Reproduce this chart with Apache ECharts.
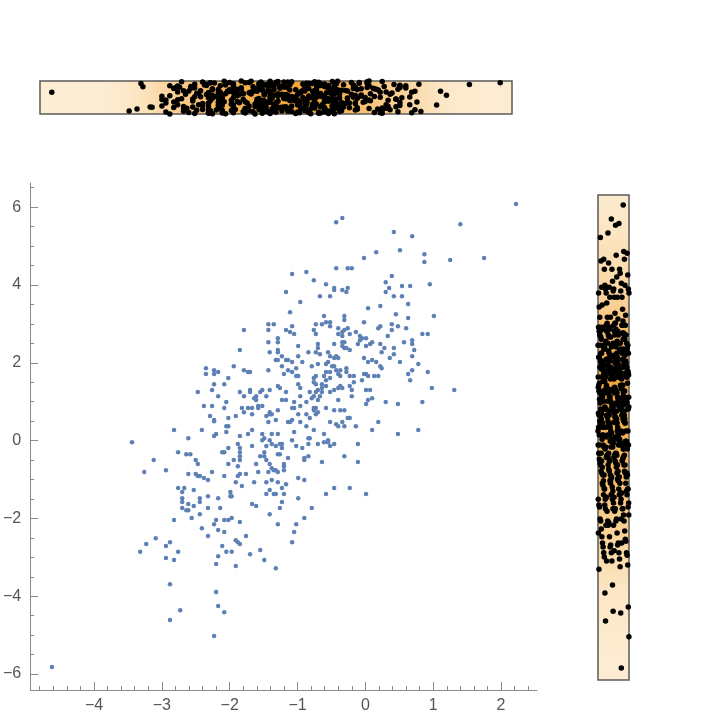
<!DOCTYPE html>
<html>
<head>
<meta charset="utf-8">
<script src="https://cdn.jsdelivr.net/npm/echarts@6/dist/echarts.min.js"></script>
<style>
  html, body { margin: 0; padding: 0; background: #fff; }
  #chart { width: 720px; height: 720px; }
</style>
</head>
<body>
<div id="chart"></div>
<script>
  // points, grouped by region of the plot
  const ptsLowerLeft = [
    [-2.82,0.27],[-2.41,0.27],[-2.23,0.50],[-2.05,0.37],[-2.02,0.37],[-3.44,-0.04],[-2.61,0.06],[-2.23,0.12],[-2.20,0.17],[-2.05,0.22],
    [-1.85,0.12],[-1.73,0.17],[-1.88,-0.09],[-1.85,-0.19],[-1.85,-0.30],[-1.85,-0.40],[-1.85,-0.50],[-2.02,-0.19],[-2.11,-0.30],[-2.08,-0.30],
    [-2.76,-0.30],[-2.64,-0.35],[-2.58,-0.35],[-3.12,-0.50],[-2.50,-0.50],[-2.47,-0.60],[-2.02,-0.60],[-1.94,-0.50],[-1.88,-0.66],[-3.26,-0.81],
    [-2.94,-0.76],[-2.61,-0.86],[-2.50,-0.86],[-2.47,-0.91],[-2.44,-0.91],[-2.38,-0.96],[-2.32,-1.01],[-2.26,-0.81],[-2.08,-0.91],[-1.88,-0.91],
    [-1.85,-0.86],[-1.76,-0.86],[-1.91,-1.07],[-1.82,-1.17],[-2.76,-1.22],[-2.67,-1.22],[-2.70,-1.32],[-2.53,-1.27],[-2.70,-1.48],[-2.70,-1.58],
    [-2.44,-1.48],[-2.44,-1.58],[-2.32,-1.43],[-2.17,-1.48],[-1.99,-1.32],[-1.99,-1.43],[-1.97,-1.43],[-2.61,-1.63],[-2.70,-1.73],[-2.64,-1.79],
    [-2.61,-1.79],[-2.53,-1.68],[-2.32,-1.73],[-2.14,-1.73],[-2.82,-2.04],[-2.56,-1.99],[-2.44,-1.89],[-2.20,-2.04],[-2.23,-2.15],[-2.08,-2.04],
    [-2.02,-2.04],[-1.97,-1.99],[-1.85,-2.09],[-2.41,-2.25],[-2.17,-2.30],[-2.08,-2.35],[-2.32,-2.45],[-1.76,-2.45],[-3.09,-2.51],[-3.23,-2.66],
    [-2.94,-2.71],[-2.88,-2.61],[-1.91,-2.56],[-1.88,-2.61],[-1.85,-2.66],[-2.11,-2.71],[-3.32,-2.86],[-2.76,-2.86],[-2.05,-2.86],[-1.97,-2.86],
    [-1.70,-2.92],[-2.94,-3.02],[-2.82,-3.07],[-2.17,-2.97],[-2.20,-3.17],[-1.91,-3.22],[-2.88,-3.69],[-2.20,-3.89],[-2.17,-4.25],[-2.08,-4.41],
    [-2.73,-4.36],[-2.88,-4.61],[-2.23,-5.02],[-4.62,-5.82]
  ];
  const ptsCentreLeft = [
    [-1.43,2.99],[-1.35,2.99],[-1.08,2.94],[-0.73,2.99],[-1.79,2.84],[-1.43,2.84],[-1.17,2.84],[-1.11,2.79],[-1.05,2.74],[-0.76,2.84],
    [-0.73,2.74],[-1.29,2.63],[-1.29,2.53],[-1.43,2.53],[-0.70,2.48],[-0.70,2.38],[-0.99,2.43],[-1.85,2.33],[-1.41,2.27],[-1.29,2.33],
    [-1.29,2.27],[-0.84,2.27],[-0.73,2.27],[-0.67,2.22],[-1.23,2.17],[-0.99,2.17],[-1.32,2.07],[-1.29,2.07],[-1.17,2.07],[-1.14,2.07],
    [-1.08,2.02],[-0.93,2.02],[-0.70,1.97],[-1.94,1.91],[-1.23,1.91],[-0.79,1.91],[-2.35,1.86],[-2.23,1.81],[-2.17,1.76],[-1.79,1.81],
    [-1.73,1.76],[-1.70,1.76],[-1.43,1.81],[-1.14,1.81],[-1.08,1.76],[-1.02,1.86],[-2.35,1.71],[-2.23,1.71],[-1.20,1.71],[-1.02,1.66],
    [-0.99,1.66],[-0.73,1.66],[-0.76,1.61],[-2.02,1.61],[-2.23,1.45],[-2.08,1.45],[-0.99,1.45],[-1.29,1.40],[-1.26,1.35],[-0.76,1.50],
    [-0.73,1.45],[-0.96,1.35],[-2.26,1.30],[-2.47,1.25],[-1.85,1.25],[-1.70,1.30],[-1.70,1.25],[-1.55,1.25],[-1.52,1.30],[-1.41,1.30],
    [-1.17,1.25],[-0.82,1.25],[-0.70,1.30],[-0.73,1.25],[-2.17,1.14],[-1.79,1.14],[-1.61,1.14],[-1.46,1.14],[-0.96,1.14],[-0.76,1.14],
    [-0.79,1.09],[-1.64,1.09],[-1.61,1.04],[-1.23,1.04],[-1.17,1.04],[-1.05,0.99],[-0.87,0.99],[-0.70,1.04],[-2.05,0.99],[-2.38,0.89],
    [-2.26,0.89],[-2.08,0.84],[-1.82,0.84],[-1.73,0.84],[-1.67,0.84],[-1.58,0.89],[-1.58,0.84],[-1.52,0.89],[-1.08,0.84],[-1.05,0.84],
    [-0.96,0.89],[-0.76,0.84],[-0.76,0.78],[-0.73,0.84],[-1.79,0.73],[-1.67,0.68],[-1.41,0.73],[-1.38,0.68],[-1.41,0.68],[-1.29,0.78],
    [-1.46,0.63],[-2.29,0.63],[-2.23,0.53],[-2.02,0.58],[-1.91,0.63],[-1.32,0.53],[-1.43,0.48],[-1.08,0.53],[-1.11,0.48],[-1.14,0.48],
    [-0.99,0.68],[-0.87,0.68],[-0.82,0.58],[-0.73,0.68],[-0.70,0.73],[-0.96,0.48],[-1.67,0.27],[-1.52,0.17],[-1.49,0.06],[-1.52,0.01],
    [-1.38,0.17],[-1.41,0.01],[-1.29,0.17],[-1.26,-0.09],[-1.23,-0.09],[-1.32,-0.14],[-1.38,-0.09],[-1.67,-0.14],[-1.08,0.01],[-1.05,0.22],
    [-1.02,-0.14],[-0.93,-0.19],[-0.84,0.06],[-0.82,0.06],[-0.87,0.37],[-0.76,0.27],[-0.70,-0.09]
  ];
  const ptsCentreLow = [
    [-1.46,-0.14],[-1.23,-0.19],[-0.84,-0.09],[-0.61,-0.04],[-0.55,-0.04],[-0.52,-0.14],[-0.46,-0.09],[-0.11,-0.09],[-1.55,-0.40],[-1.49,-0.40],
    [-1.49,-0.30],[-1.46,-0.50],[-1.29,-0.35],[-1.26,-0.35],[-1.14,-0.45],[-0.90,-0.45],[-0.90,-0.50],[-0.84,-0.40],[-0.64,-0.55],[-0.31,-0.40],
    [-0.11,-0.55],[-1.61,-0.60],[-1.41,-0.60],[-1.20,-0.60],[-1.20,-0.66],[-1.38,-0.71],[-1.35,-0.76],[-1.32,-0.76],[-1.29,-0.81],[-1.20,-0.76],
    [-1.58,-0.81],[-1.43,-0.81],[-0.99,-0.96],[-0.90,-1.01],[-1.64,-1.07],[-1.46,-1.07],[-1.38,-1.01],[-1.29,-1.07],[-1.17,-1.12],[-1.41,-1.27],
    [-1.23,-1.22],[-1.46,-1.37],[-1.35,-1.37],[-1.32,-1.37],[-1.20,-1.37],[-0.58,-1.37],[-0.46,-1.22],[-0.23,-1.22],[0.01,-1.37],[-0.99,-1.48],
    [-1.67,-1.63],[-1.61,-1.68],[-1.23,-1.58],[-1.26,-1.73],[-0.79,-1.73],[-1.41,-1.89],[-0.90,-1.99],[-1.29,-2.15],[-1.02,-2.15],[-1.05,-2.35],
    [-1.08,-2.61],[-1.55,-2.81],[-1.49,-3.07],[-1.32,-3.28]
  ];
  const ptsCentreRight = [
    [-0.64,2.99],[-0.58,3.04],[-0.52,3.04],[-0.52,2.94],[-0.31,3.10],[-0.02,3.04],[-0.40,2.89],[-0.31,2.84],[-0.34,2.79],[-0.26,2.89],
    [-0.40,2.74],[-0.34,2.69],[-0.23,2.74],[-0.14,2.79],[-0.08,2.69],[-0.05,2.63],[0.01,2.63],[-0.08,2.58],[0.19,2.89],[0.22,2.94],
    [0.39,2.99],[0.39,2.84],[0.48,2.94],[0.60,2.89],[0.84,2.74],[0.92,2.74],[0.33,2.69],[-0.46,2.48],[-0.34,2.53],[-0.31,2.53],
    [-0.34,2.43],[-0.31,2.38],[-0.28,2.38],[-0.23,2.33],[-0.11,2.48],[0.01,2.43],[0.07,2.48],[0.10,2.53],[0.22,2.48],[0.28,2.38],
    [0.24,2.27],[0.42,2.38],[0.57,2.53],[0.69,2.58],[0.69,2.48],[0.72,2.33],[0.42,2.22],[0.36,2.12],[0.69,2.17],[-0.55,2.27],
    [-0.52,2.17],[-0.46,2.12],[-0.43,2.17],[-0.40,2.12],[-0.55,2.02],[-0.58,1.97],[-0.49,1.91],[-0.46,1.91],[-0.02,2.12],[0.04,2.02],
    [0.10,2.07],[0.16,2.02],[0.22,1.91],[0.24,1.86],[0.51,2.02],[0.78,1.97],[-0.43,1.81],[-0.37,1.81],[-0.28,1.86],[-0.28,1.76],
    [-0.58,1.76],[-0.52,1.76],[-0.61,1.66],[-0.40,1.71],[-0.37,1.66],[-0.52,1.61],[-0.58,1.55],[-0.23,1.66],[-0.17,1.66],[-0.02,1.71],
    [0.01,1.71],[0.04,1.66],[0.13,1.66],[0.19,1.66],[-0.05,1.55],[-0.17,1.50],[0.69,1.81],[0.63,1.71],[0.66,1.55],[0.92,1.76],
    [-0.64,1.45],[-0.64,1.35],[-0.64,1.25],[-0.67,1.14],[-0.58,1.40],[-0.46,1.30],[-0.40,1.35],[-0.37,1.40],[-0.34,1.35],[-0.52,1.25],
    [-0.23,1.40],[-0.20,1.30],[-0.20,1.14],[0.01,1.30],[0.07,1.30],[0.10,1.09],[0.04,1.04],[0.01,0.94],[-0.40,1.04],[0.30,0.99],
    [0.48,0.94],[0.84,0.99],[0.98,1.35],[-0.58,0.84],[-0.46,0.78],[-0.37,0.78],[-0.31,0.78],[-0.26,0.58],[-0.23,0.58],[-0.52,0.48],
    [-0.43,0.42],[-0.40,0.37],[-0.34,0.48],[-0.31,0.37],[-0.14,0.37],[0.19,0.48],[0.10,0.27],[0.48,0.17],[0.78,0.27],[-0.61,0.17],
    [-0.55,0.01]
  ];
  const ptsUpper = [
    [-0.43,5.61],[-0.34,5.72],[-0.02,4.69],[0.16,4.84],[-0.43,4.43],[-0.26,4.43],[-0.20,4.43],[-1.08,4.28],[-0.87,4.33],[-0.76,4.12],
    [-0.58,4.02],[-0.46,3.92],[-0.46,3.87],[-0.34,3.87],[-0.26,3.92],[-0.28,3.82],[0.30,4.07],[0.35,3.92],[0.30,3.82],[-1.17,3.82],
    [-0.67,3.71],[-0.52,3.71],[-0.96,3.56],[0.22,3.46],[0.04,3.40],[-1.11,3.30],[-0.61,3.20],[-0.31,3.20],
    [2.22,6.08],[1.40,5.56],[0.42,5.36],[0.69,5.25],[0.51,4.89],[0.87,4.79],[0.87,4.59],[1.25,4.64],[1.75,4.69],[0.39,4.23],
    [0.54,3.97],[0.66,3.97],[0.95,4.02],[0.42,3.71],[0.54,3.71],[0.63,3.51],[0.45,3.25],[0.63,3.15],[1.01,3.20],[1.31,1.30]
  ];

  const xTickLabels = [-4, -3, -2, -1, 0, 1, 2];
  const yTickLabels = [-6, -4, -2, 0, 2, 4, 6];

  const points = [].concat(ptsLowerLeft, ptsCentreLeft, ptsCentreLow, ptsCentreRight, ptsUpper);
  const xs = points.map(p => p[0]);
  const ys = points.map(p => p[1]);

  // minor ticks: x every 0.2, y every 0.5
  const xMinor = [], yMinor = [];
  for (let k = -24; k <= 12; k++) if (k % 5 !== 0) xMinor.push(k / 5);
  for (let k = -12; k <= 13; k++) if (k % 4 !== 0) yMinor.push(k / 2);

  // deterministic rug jitter (low-discrepancy sequence)
  const jitter = (i, g) => (i * g) % 1;

  // density shading for the marginal strips
  const cream = [253, 238, 214], orange = [244, 168, 58];
  function densityStops(vals, lo, hi, bw, reverse) {
    const n = 60, dens = [];
    for (let s = 0; s <= n; s++) {
      const t = lo + (hi - lo) * s / n;
      let d = 0;
      for (const v of vals) d += Math.exp(-0.5 * ((t - v) / bw) ** 2);
      dens.push(d);
    }
    const dmax = Math.max(...dens);
    return dens.map((d, s) => {
      const f = Math.pow(d / dmax, 0.8);
      const c = cream.map((c0, j) => Math.round(c0 + (orange[j] - c0) * f));
      return { offset: reverse ? 1 - s / n : s / n, color: 'rgb(' + c.join(',') + ')' };
    }).sort((a, b) => a.offset - b.offset);
  }

  const minus = v => (v < 0 ? '\u2212' + Math.abs(v) : String(v));
  const axisGray = '#8a8a8a';
  const labelStyle = { color: '#555', fontSize: 16, fontFamily: 'Liberation Sans, Arial, sans-serif' };

  const topRange = [-4.80, 2.40];
  const rightRange = [-6.13, 6.34];

  const chart = echarts.init(document.getElementById('chart'), null, { renderer: 'canvas' });
  chart.setOption({
    animation: false,
    backgroundColor: '#fff',
    grid: [
      { left: 30, top: 183, width: 507, height: 507 },
      {
        left: 40, top: 81, width: 472, height: 33, show: true,
        borderColor: '#5a5a5a', borderWidth: 1.5,
        backgroundColor: { type: 'linear', x: 0, y: 0, x2: 1, y2: 0, colorStops: densityStops(xs, topRange[0], topRange[1], 0.3, false) }
      },
      {
        left: 598, top: 195, width: 31, height: 485, show: true,
        borderColor: '#5a5a5a', borderWidth: 1.5,
        backgroundColor: { type: 'linear', x: 0, y: 0, x2: 0, y2: 1, colorStops: densityStops(ys, rightRange[0], rightRange[1], 0.5, true) }
      }
    ],
    xAxis: [
      {
        gridIndex: 0, type: 'value', min: -4.94, max: 2.53, position: 'bottom',
        axisLine: { show: true, onZero: false, lineStyle: { color: axisGray } },
        axisTick: { show: true, inside: true, length: 8, customValues: xTickLabels, lineStyle: { color: axisGray } },
        axisLabel: Object.assign({ customValues: xTickLabels, margin: 8, formatter: minus }, labelStyle),
        splitLine: { show: false }
      },
      {
        gridIndex: 0, type: 'value', min: -4.94, max: 2.53, position: 'bottom',
        axisLine: { show: false, onZero: false },
        axisTick: { show: true, inside: true, length: 4, customValues: xMinor, lineStyle: { color: axisGray } },
        axisLabel: { show: false }, splitLine: { show: false }
      },
      { gridIndex: 1, type: 'value', min: topRange[0], max: topRange[1], show: false },
      { gridIndex: 2, type: 'value', min: 0, max: 1, show: false }
    ],
    yAxis: [
      {
        gridIndex: 0, type: 'value', min: -6.41, max: 6.62, position: 'left',
        axisLine: { show: true, onZero: false, lineStyle: { color: axisGray } },
        axisTick: { show: true, inside: true, length: 8, customValues: yTickLabels, lineStyle: { color: axisGray } },
        axisLabel: Object.assign({ customValues: yTickLabels, margin: 9, formatter: minus }, labelStyle),
        splitLine: { show: false }
      },
      {
        gridIndex: 0, type: 'value', min: -6.41, max: 6.62, position: 'left',
        axisLine: { show: false, onZero: false },
        axisTick: { show: true, inside: true, length: 4, customValues: yMinor, lineStyle: { color: axisGray } },
        axisLabel: { show: false }, splitLine: { show: false }
      },
      { gridIndex: 1, type: 'value', min: 0, max: 1, show: false },
      { gridIndex: 2, type: 'value', min: rightRange[0], max: rightRange[1], show: false }
    ],
    series: [
      {
        type: 'scatter', xAxisIndex: 0, yAxisIndex: 0,
        data: points, symbolSize: 4.5,
        itemStyle: { color: '#5e81b5', opacity: 1 }
      },
      {
        type: 'scatter', xAxisIndex: 2, yAxisIndex: 2, clip: false, z: 5,
        data: xs.map((x, i) => [x, jitter(i, 0.6180339887)]),
        symbolSize: 5.5, itemStyle: { color: '#000', opacity: 1 }
      },
      {
        type: 'scatter', xAxisIndex: 3, yAxisIndex: 3, clip: false, z: 5,
        data: ys.map((y, i) => [jitter(i, 0.7548776662), y]),
        symbolSize: 5.5, itemStyle: { color: '#000', opacity: 1 }
      }
    ]
  });
</script>
</body>
</html>
